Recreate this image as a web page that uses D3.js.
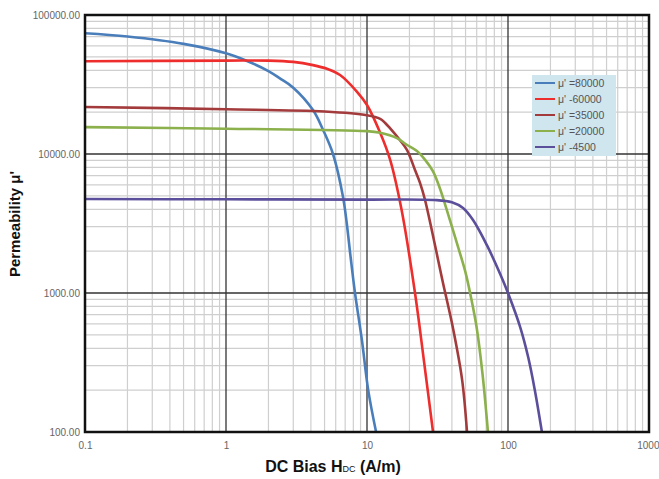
<!DOCTYPE html>
<html>
<head>
<meta charset="utf-8">
<script src="https://cdn.jsdelivr.net/npm/d3@7"></script>
<style>
  body { margin: 0; background: #fff; }
  text { font-family: "Liberation Sans", Arial, sans-serif; }
</style>
</head>
<body>
<div id="chart"></div>
<script>
// values
const xTicks = [0.1, 1, 10, 100, 1000];
const yTicks = [100, 1000, 10000, 100000];

const blueH = [0.1, 0.2, 0.5, 1, 1.41, 2, 2.41, 3, 4.14, 4.88, 5.74, 6.76, 7.18, 7.65, 8.22, 9.2, 10.2, 11.6];
const blueMu = [74000, 70000, 62000, 53000, 46700, 39500, 35000, 30000, 20700, 14900, 10000, 4910, 3190, 1815, 1000, 459, 200, 100];

const redH = [0.1, 1, 2, 3, 4.14, 5.2, 6.44, 8.5, 10, 12.4, 14.6, 17.6, 21.9, 25.4, 29.4];
const redMu = [46500, 47000, 47000, 46000, 43600, 41000, 37000, 28000, 22500, 14200, 9060, 3950, 1000, 319, 100];

const darkRedH = [0.1, 1, 5, 10, 12.4, 13.4, 14.5, 17.1, 19.2, 21.9, 23.8, 25.8, 34.6, 40.7, 47.2, 51.2];
const darkRedMu = [21800, 21000, 20200, 19000, 17900, 16800, 15400, 12600, 10700, 7670, 6180, 4670, 1180, 560, 240, 100];

const greenH = [0.1, 1, 10, 12.4, 16.3, 19, 22.6, 26, 29.4, 33, 36.7, 44.5, 50, 55, 60, 66, 72.1];
const greenMu = [15600, 15200, 14600, 14200, 13000, 11700, 10500, 9000, 7500, 5600, 4000, 2100, 1400, 900, 560, 260, 100];

const purpleH = [0.1, 1, 10, 30, 40, 48, 56.5, 71, 87.7, 100, 122, 139, 155, 174];
const purpleMu = [4740, 4720, 4700, 4670, 4500, 4090, 3350, 2200, 1380, 1000, 569, 346, 200, 100];

const seriesNames = ["=80000", "-60000", "=35000", "=20000", "-4500"];
const seriesColors = ["#4a7ebb", "#ee2d2d", "#a33b3c", "#8bb04c", "#5b4f9b"];
const seriesH = [blueH, redH, darkRedH, greenH, purpleH];
const seriesMu = [blueMu, redMu, darkRedMu, greenMu, purpleMu];

const margin = { top: 15, right: 10, bottom: 47, left: 85 };
const width = 659 - margin.left - margin.right;
const height = 479 - margin.top - margin.bottom;

const svg = d3.select("#chart")
  .append("svg")
  .attr("width", 659)
  .attr("height", 479)
  .append("g")
  .attr("transform", `translate(${margin.left},${margin.top})`);

const x = d3.scaleLog().domain([0.1, 1000]).range([0, width]);
const y = d3.scaleLog().domain([100, 100000]).range([height, 0]);

// minor grid
svg.append("g")
  .selectAll("line")
  .data(x.ticks().filter(d => !xTicks.includes(d)))
  .enter()
  .append("line")
  .attr("x1", d => x(d)).attr("x2", d => x(d))
  .attr("y1", 0).attr("y2", height)
  .attr("stroke", "#cfcfcf")
  .attr("stroke-width", 1.2);

svg.append("g")
  .selectAll("line")
  .data(y.ticks().filter(d => !yTicks.includes(d)))
  .enter()
  .append("line")
  .attr("y1", d => y(d)).attr("y2", d => y(d))
  .attr("x1", 0).attr("x2", width)
  .attr("stroke", "#cfcfcf")
  .attr("stroke-width", 1.2);

// major grid
svg.append("g")
  .selectAll("line")
  .data(xTicks)
  .enter()
  .append("line")
  .attr("x1", d => x(d)).attr("x2", d => x(d))
  .attr("y1", 0).attr("y2", height)
  .attr("stroke", "#333")
  .attr("stroke-width", 1.3);

svg.append("g")
  .selectAll("line")
  .data(yTicks)
  .enter()
  .append("line")
  .attr("y1", d => y(d)).attr("y2", d => y(d))
  .attr("x1", 0).attr("x2", width)
  .attr("stroke", "#333")
  .attr("stroke-width", 1.3);

// curves
const line = d3.line()
  .x(d => x(d[0]))
  .y(d => y(d[1]))
  .curve(d3.curveCatmullRom.alpha(0.5));

seriesH.forEach(function(hs, i) {
  const pts = hs.map((h, j) => [h, seriesMu[i][j]]);
  svg.append("path")
    .datum(pts)
    .attr("fill", "none")
    .attr("stroke", seriesColors[i])
    .attr("stroke-width", 2.6)
    .attr("d", line);
});

// frame
svg.append("rect")
  .attr("width", width)
  .attr("height", height)
  .attr("fill", "none")
  .attr("stroke", "#111")
  .attr("stroke-width", 2.5);

// axes (labels only)
const xAxis = svg.append("g")
  .attr("transform", `translate(0,${height})`)
  .call(d3.axisBottom(x).tickValues(xTicks).tickFormat(d => String(d)).tickSize(0).tickPadding(10));

const yAxis = svg.append("g")
  .call(d3.axisLeft(y).tickValues(yTicks).tickFormat(d3.format(".2f")).tickSize(0).tickPadding(5));

[xAxis, yAxis].forEach(function(a) {
  a.select(".domain").remove();
  a.selectAll("text")
    .attr("fill", "#666")
    .attr("font-size", "10px")
    .style("font-family", "'Liberation Sans', Arial, sans-serif");
});

// keep the last label inside the page
xAxis.selectAll("text")
  .filter(d => d === 1000)
  .attr("text-anchor", "end")
  .attr("dx", "10px");

// legend
const legend = svg.append("g")
  .attr("transform", `translate(${532 - margin.left},${75 - margin.top})`);

legend.append("rect")
  .attr("width", 84)
  .attr("height", 81)
  .attr("fill", "#cfe6ef");

seriesNames.forEach(function(name, i) {
  const ly = 8 + i * 16;
  legend.append("line")
    .attr("x1", 3).attr("x2", 23)
    .attr("y1", ly).attr("y2", ly)
    .attr("stroke", seriesColors[i])
    .attr("stroke-width", 2);
  legend.append("text")
    .attr("x", 26)
    .attr("y", ly + 4)
    .attr("font-size", "10.5px")
    .attr("fill", "#555")
    .text("μ'  " + name);
});

// axis titles
const xTitle = svg.append("text")
  .attr("x", 333 - margin.left)
  .attr("y", height + 40)
  .attr("text-anchor", "middle")
  .attr("font-size", "16px")
  .attr("font-weight", "bold")
  .attr("fill", "#111");
xTitle.append("tspan").text("DC Bias H");
xTitle.append("tspan").attr("font-size", "9px").attr("font-weight", "normal").text("DC");
xTitle.append("tspan").text(" (A/m)");

svg.append("text")
  .attr("x", -(224 - margin.top))
  .attr("y", -65)
  .attr("transform", "rotate(-90)")
  .attr("text-anchor", "middle")
  .attr("font-size", "15px")
  .attr("font-weight", "bold")
  .attr("fill", "#111")
  .text("Permeability μ'");
</script>
</body>
</html>
